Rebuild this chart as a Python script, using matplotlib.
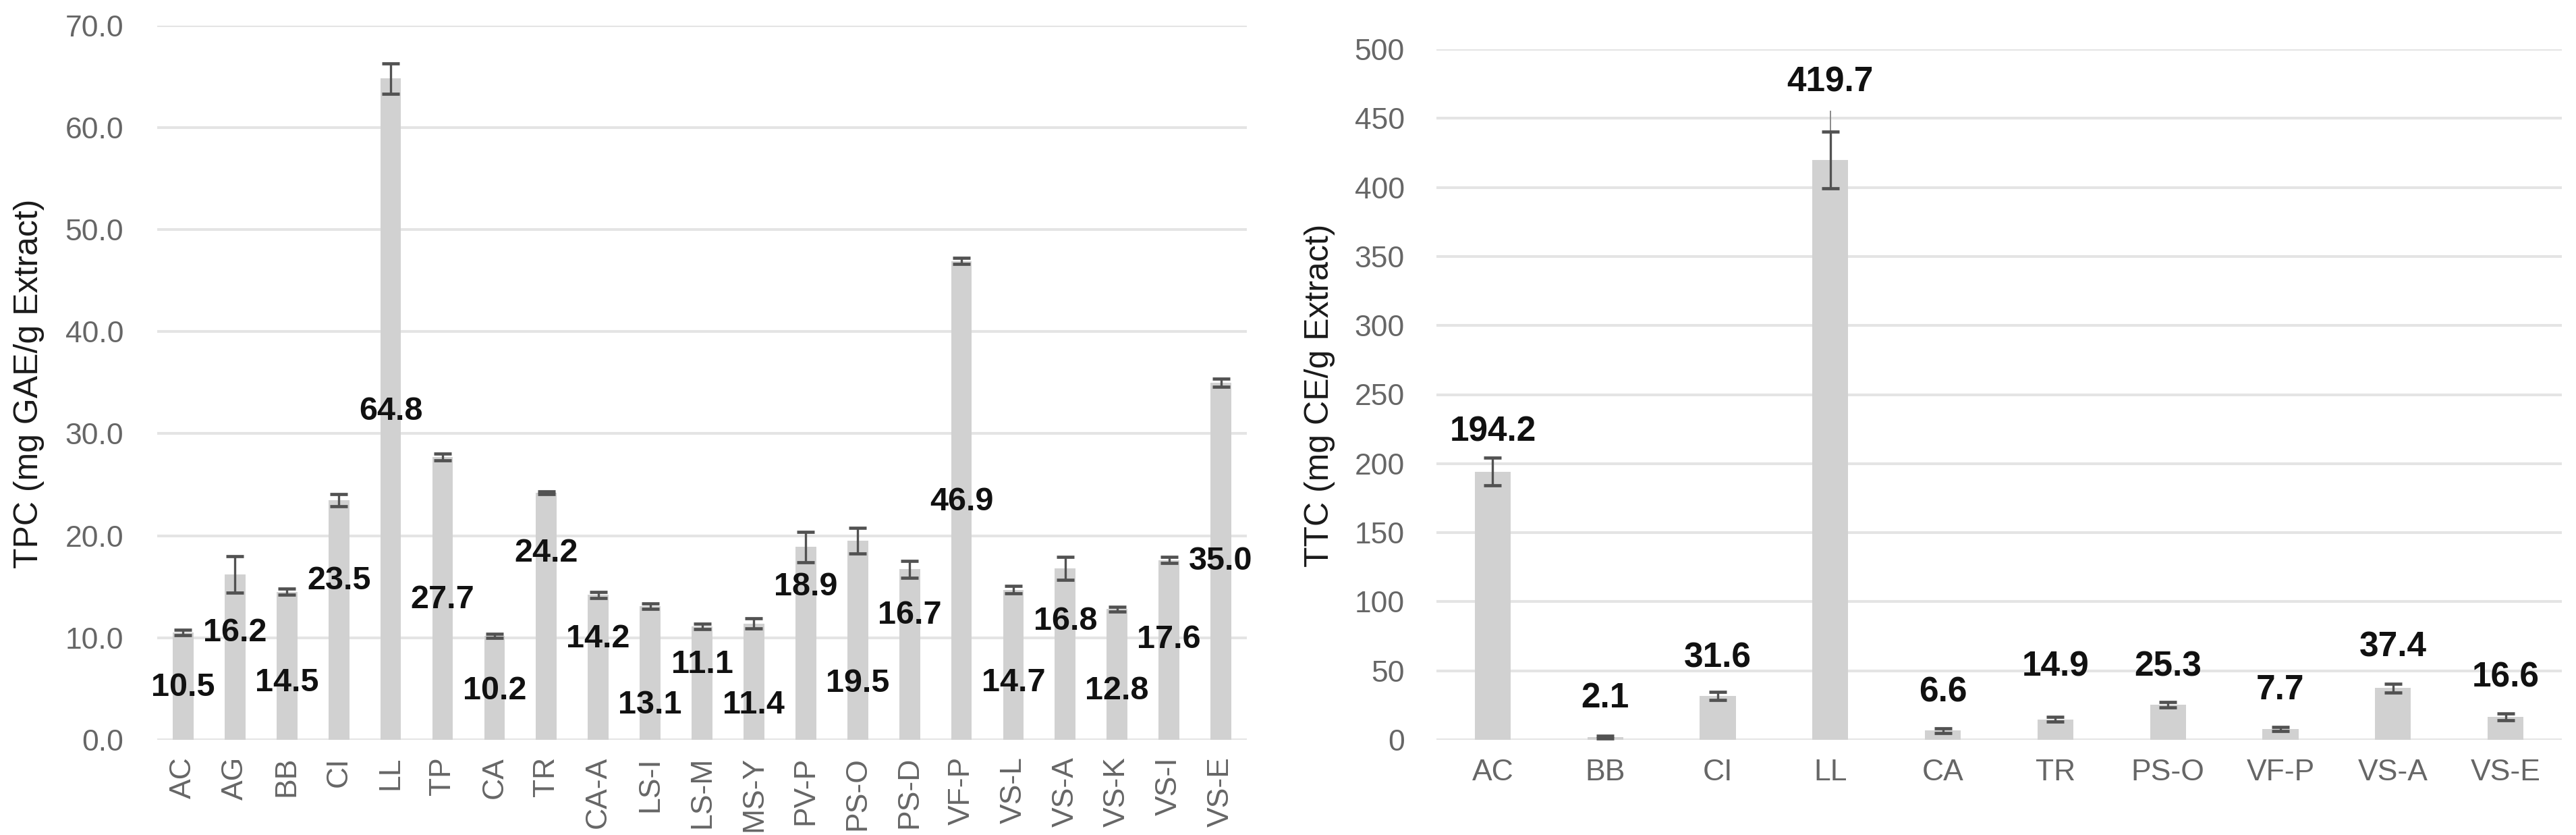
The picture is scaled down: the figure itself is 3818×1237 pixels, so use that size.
import matplotlib
matplotlib.use("Agg")
import matplotlib.pyplot as plt
import numpy as np

plt.rcParams['font.family'] = ['Liberation Sans', 'DejaVu Sans']

# ---------------- data ----------------
tpc_categories = ["AC", "AG", "BB", "CI", "LL", "TP", "CA", "TR", "CA-A", "LS-I", "LS-M",
                  "MS-Y", "PV-P", "PS-O", "PS-D", "VF-P", "VS-L", "VS-A", "VS-K", "VS-I", "VS-E"]
tpc_values = [10.5, 16.2, 14.5, 23.5, 64.8, 27.7, 10.2, 24.2, 14.2, 13.1, 11.1,
              11.4, 18.9, 19.5, 16.7, 46.9, 14.7, 16.8, 12.8, 17.6, 35.0]
tpc_errors = [0.25, 1.8, 0.3, 0.6, 1.5, 0.35, 0.2, 0.15, 0.3, 0.25, 0.25,
              0.5, 1.5, 1.25, 0.8, 0.3, 0.35, 1.1, 0.25, 0.3, 0.4]
# where each value label sits (data units)
tpc_label_at = [5.1, 10.5, 5.6, 15.6, 32.2, 13.7, 4.8, 18.3, 9.9, 3.4, 7.4,
                3.4, 15.0, 5.5, 12.2, 23.3, 5.6, 11.6, 4.8, 9.8, 17.5]

ttc_categories = ["AC", "BB", "CI", "LL", "CA", "TR", "PS-O", "VF-P", "VS-A", "VS-E"]
ttc_values = [194.2, 2.1, 31.6, 419.7, 6.6, 14.9, 25.3, 7.7, 37.4, 16.6]
ttc_errors = [10.0, 1.0, 3.0, 20.5, 1.5, 1.5, 2.0, 1.5, 3.0, 2.5]
ttc_errors_extra_up = [0, 0, 0, 36.0, 0, 0, 0, 0, 0, 0]
ttc_label_at = [223, 30, 59, 476, 34, 53, 53, 36, 67, 45]

tpc_yticks = np.arange(0, 70.1, 10)
ttc_yticks = np.arange(0, 500.1, 50)

# ---------------- style ----------------
BAR = "#d1d1d1"
ERR = "#525252"
GRID = "#e4e4e4"
TICK = "#666666"

W, H = 3818, 1237
fig = plt.figure(figsize=(W / 100, H / 100), dpi=100)


def style_axes(ax, yticks, fmt):
    ax.set_yticks(yticks)
    ax.set_yticklabels([fmt.format(v) for v in yticks])
    ax.set_ylim(yticks[0], yticks[-1])
    for s in ax.spines.values():
        s.set_visible(False)
    ax.grid(axis="y", color=GRID, linewidth=2.9, zorder=0)
    ax.set_axisbelow(True)
    ax.tick_params(axis="both", length=0, colors=TICK, labelsize=32)


# ---------------- left chart ----------------
ax1 = fig.add_axes([233 / W, 1 - 1096 / H, (1848 - 233) / W, (1096 - 37.6) / H])
x1 = np.arange(len(tpc_categories))
ax1.bar(x1, tpc_values, width=0.40, color=BAR, zorder=2)
ax1.errorbar(x1, tpc_values, yerr=tpc_errors, fmt="none", ecolor=ERR,
             elinewidth=2.4, capsize=9.5, capthick=3.4, zorder=3)
ax1.set_xlim(-0.5, len(tpc_categories) - 0.5)
style_axes(ax1, tpc_yticks, "{:.1f}")
ax1.set_xticks(x1)
ax1.set_xticklabels(tpc_categories, rotation=90)
ax1.tick_params(axis="x", pad=18)
ax1.tick_params(axis="y", pad=36)
for xi, v, ly in zip(x1, tpc_values, tpc_label_at):
    ax1.text(xi, ly, f"{v:.1f}", ha="center", va="center", fontsize=35,
             fontweight="bold", color="#111111", zorder=4)
fig.text(43 / W, 1 - 568 / H, "TPC (mg GAE/g Extract)", rotation=90,
         ha="center", va="center", fontsize=36, color="#1a1a1a")

# ---------------- right chart ----------------
ax2 = fig.add_axes([2129 / W, 1 - 1096 / H, (3797 - 2129) / W, (1096 - 73) / H])
x2 = np.arange(len(ttc_categories))
ax2.bar(x2, ttc_values, width=0.32, color=BAR, zorder=2)
ax2.errorbar(x2, ttc_values, yerr=[np.zeros(len(x2)), ttc_errors_extra_up], fmt="none",
             ecolor="#8a8a8a", elinewidth=1.4, capsize=0, zorder=3)
ax2.errorbar(x2, ttc_values, yerr=ttc_errors, fmt="none", ecolor=ERR,
             elinewidth=2.4, capsize=9.5, capthick=3.4, zorder=3)
ax2.set_xlim(-0.5, len(ttc_categories) - 0.5)
style_axes(ax2, ttc_yticks, "{:.0f}")
ax2.set_xticks(x2)
ax2.set_xticklabels(ttc_categories)
ax2.tick_params(axis="x", pad=20)
ax2.tick_params(axis="y", pad=34)
for xi, v, ly in zip(x2, ttc_values, ttc_label_at):
    ax2.text(xi, ly, f"{v:.1f}", ha="center", va="center", fontsize=37,
             fontweight="bold", color="#111111", zorder=4)
fig.text(1956 / W, 1 - 586 / H, "TTC (mg CE/g Extract)", rotation=90,
         ha="center", va="center", fontsize=36, color="#1a1a1a")

fig.savefig("out.png", dpi=100, facecolor="white")
